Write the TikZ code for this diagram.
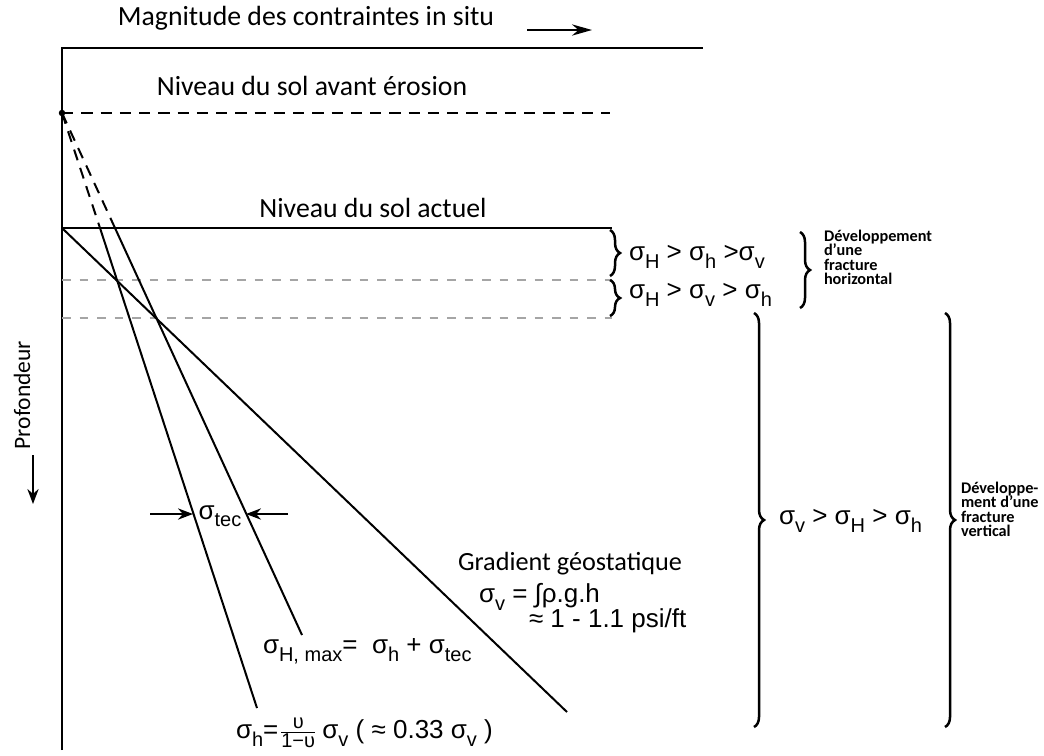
\documentclass[tikz,border=0pt]{standalone}
\usepackage{fontspec}
\setmainfont{Carlito}
\newfontfamily\arialf{Liberation Sans}
\usetikzlibrary{arrows.meta, positioning, decorations.pathreplacing, calc}
\definecolor{cgrey}{HTML}{A5A5A5}
\newcommand{\sg}[1]{σ\raisebox{-0.55ex}{\footnotesize #1}}
\tikzset{
  every picture/.style={line width=0.8pt},
  lbl/.style={font=\fontsize{11.1}{13}\selectfont, inner sep=0pt},
  sig/.style={font=\arialf\fontsize{10.4}{12}\selectfont, inner sep=0pt, anchor=west},
  note/.style={font=\bfseries\fontsize{6.5}{5.8}\selectfont, align=left, inner sep=0pt, anchor=north west},
  arrow/.style={-{Stealth[length=6pt, width=4.5pt]}, line width=0.8pt},
  level/.style={draw=cgrey, dash pattern=on 3.5pt off 3.5pt, line width=0.6pt},
  eroded/.style={dash pattern=on 4.5pt off 3.2pt},
  brc/.style={decorate, decoration={brace, amplitude=#1}, line width=1pt},
  brc/.default=4pt,
}

\begin{document}
\begin{tikzpicture}[x=0.4pt, y=-0.4pt]
  \useasboundingbox (0,0) rectangle (1044,755);
  % axes
  \draw (62,750) -- (62,48) -- (703,48);
  \node[lbl] (titre) at (306,18) {Magnitude des contraintes in situ};
  \coordinate (mA) at (527,30); \coordinate (mB) at (592,30);
  \draw[arrow, -{Stealth[length=8pt, width=4.5pt]}] (mA) -- (mB);
  \node[lbl, font=\fontsize{9.4}{11}\selectfont, rotate=90] (prof) at (22,395) {Profondeur};
  \coordinate (pA) at (33,455); \coordinate (pB) at (33,504);
  \draw[arrow] (pA) -- (pB);
  % ground levels
  \node[lbl] (avant) at (312,86) {Niveau du sol avant érosion};
  \coordinate (e0) at (62,113); \coordinate (e1) at (610,113);
  \draw[eroded] (e0) -- (e1);
  \fill (e0) circle (1.3pt);
  \node[lbl] (actuel) at (373,208) {Niveau du sol actuel};
  \coordinate (s0) at (62,228); \coordinate (s1) at (612,228);
  \draw (s0) -- (s1);
  \draw[level] (62,280) -- (612,280);
  \draw[level] (62,318) -- (612,318);
  % stress lines
  \coordinate (h0) at (100,228); \coordinate (hEnd) at (257,708);
  \coordinate (H0) at (115,228); \coordinate (HEnd) at (302,635);
  \coordinate (gEnd) at (567,712);
  \draw[eroded] (e0) -- (h0); \draw (h0) -- (hEnd);
  \draw[eroded] (e0) -- (H0); \draw (H0) -- (HEnd);
  \draw (s0) -- (gEnd);
  % tectonic stress
  \coordinate (tL) at (150,514); \coordinate (th) at (193,514);
  \coordinate (tR) at (288,514); \coordinate (tH) at (246,514);
  \draw[arrow] (tL) -- (th); \draw[arrow] (tR) -- (tH);
  \node[sig, anchor=center] (tec) at (220,516) {\sg{tec}};
  \node[lbl, font=\fontsize{10.5}{12}\selectfont] (grad) at (570,564) {Gradient géostatique};
  \node[sig] (sv) at (478,597) {\sg{v} = ∫ρ.g.h};
  \node[sig] (psi) at (528,621) {≈ 1 - 1.1 psi/ft};
  \node[sig] (sHmax) at (262,651) {\sg{H, max}=\ \ \sg{h} + \sg{tec}};
  \node[sig] (sh) at (235,733) {\sg{h}=$\frac{\hbox{\footnotesize υ}}{\hbox{\footnotesize 1−υ}}$\,\sg{v} ( ≈ 0.33 \sg{v} )};
  % regimes
  \draw[brc] (610,230) -- (610,276);
  \node[sig] (r1) at (628,257) {\sg{H} > \sg{h} >\sg{v}};
  \draw[brc] (610,280) -- (610,316);
  \node[sig] (r2) at (628,295) {\sg{H} > \sg{v} > \sg{h}};
  \draw[brc] (800,232) -- (800,308);
  \node[note] (fh) at (823,229) {Développement\\d’une\\fracture\\horizontal};
  \draw[brc] (754,313) -- (754,727);
  \node[sig] (r3) at (778,521) {\sg{v} > \sg{H} > \sg{h}};
  \draw[brc] (945,313) -- (945,727);
  \node[note] (fv) at (960,481) {Développe-\\ment d’une\\fracture\\vertical};
\end{tikzpicture}
\end{document}
